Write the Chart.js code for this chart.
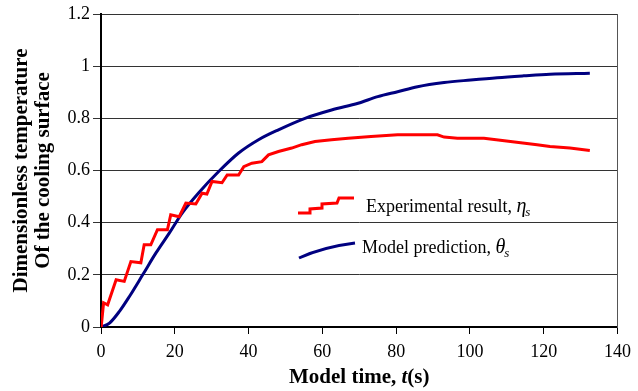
<!DOCTYPE html>
<html lang="en">
<head>
    <meta charset="UTF-8">
    <title>Dimensionless temperature of the cooling surface</title>
    <script src="https://cdn.jsdelivr.net/npm/chart.js"></script>
    <style>
        html, body {
            margin: 0;
            padding: 0;
            background: #ffffff;
        }
        #wrap {
            width: 638px;
            height: 391px;
        }
    </style>
</head>
<body>
    <div id="wrap">
        <canvas id="tempChart" width="638" height="391"></canvas>
    </div>

    <script>
        // tick values
        const xTicks = [0, 20, 40, 60, 80, 100, 120, 140];
        const yTicks = [0, 0.2, 0.4, 0.6, 0.8, 1, 1.2];

        const expTime = [0.05, 0.7, 1.8, 4.1, 6.3, 8.1, 10.8, 11.7, 13.5, 15.3, 18.0, 18.9, 21.2, 23.0, 25.7,
            27.4, 28.7, 30.1, 32.8, 34.2, 37.3, 38.7, 40.9, 43.6, 45.4, 48.1, 51.7, 54.4, 58.0, 62.5,
            67.0, 73.2, 80.4, 91.2, 93.0, 96.6, 103.8, 111.0, 118.2, 121.7, 127.1, 132.5];
        const expValue = [0, 0.093, 0.085, 0.181, 0.175, 0.251, 0.246, 0.315, 0.315, 0.373, 0.373, 0.43, 0.423, 0.475, 0.472,
            0.513, 0.51, 0.558, 0.553, 0.583, 0.583, 0.615, 0.628, 0.634, 0.66, 0.673, 0.686, 0.699, 0.711, 0.718,
            0.724, 0.73, 0.737, 0.737, 0.728, 0.724, 0.724, 0.711, 0.699, 0.692, 0.686, 0.677];

        // model prediction (theta_s)
        const modelTime = [0.05, 2.3, 5.0, 7.7, 11.3, 14.9, 18.5, 22.0, 26.5, 31.9, 37.3, 42.7, 48.1, 55.3,
            62.5, 69.7, 75.0, 80.4, 85.8, 93.0, 100.2, 107.4, 114.6, 121.7, 132.5];
        const modelValue = [0, 0.015, 0.06, 0.117, 0.2, 0.284, 0.36, 0.437, 0.515, 0.596, 0.667, 0.718, 0.756, 0.8,
            0.832, 0.858, 0.883, 0.902, 0.921, 0.937, 0.947, 0.956, 0.963, 0.969, 0.973];

        const serif = "'Liberation Serif', 'DejaVu Serif', serif";

        function toPoints(xs, ys) {
            return xs.map((x, i) => ({ x: x, y: ys[i] }));
        }

        function drawLabel(ctx, x, y, text, sym, sub) {
            ctx.font = '18px ' + serif;
            ctx.fillText(text, x, y);
            x += ctx.measureText(text).width;
            ctx.font = 'italic 20px ' + serif;
            ctx.fillText(sym, x, y);
            x += ctx.measureText(sym).width;
            ctx.font = 'italic 13px ' + serif;
            ctx.fillText(sub, x - 1, y + 4);
        }

        // legend inside the plot plus the x title with its italic t
        const extraText = {
            id: 'extraText',
            afterDatasetsDraw(chart) {
                const ctx = chart.ctx;
                const a = chart.chartArea;
                const ox = a.left;
                const oy = a.top;
                ctx.save();
                ctx.lineWidth = 3;

                // red stepped sample
                ctx.strokeStyle = '#ff0000';
                ctx.beginPath();
                ctx.moveTo(ox + 197, oy + 199);
                ctx.lineTo(ox + 209, oy + 199);
                ctx.lineTo(ox + 209, oy + 195);
                ctx.lineTo(ox + 221, oy + 194);
                ctx.lineTo(ox + 221, oy + 190);
                ctx.lineTo(ox + 236, oy + 189);
                ctx.lineTo(ox + 238, oy + 184);
                ctx.lineTo(ox + 253, oy + 184);
                ctx.stroke();

                // blue curve sample
                ctx.strokeStyle = '#000080';
                ctx.beginPath();
                ctx.moveTo(ox + 198, oy + 244);
                ctx.quadraticCurveTo(ox + 222, oy + 233, ox + 254, oy + 229);
                ctx.stroke();

                ctx.fillStyle = '#000';
                ctx.textBaseline = 'alphabetic';
                drawLabel(ctx, ox + 265, oy + 198, 'Experimental result, ', '\u03B7', 's');
                drawLabel(ctx, ox + 261, oy + 239, 'Model prediction, ', '\u03B8', 's');

                // x axis title: "Model time, t(s)" with t in italic
                const parts = [
                    ['bold 21px ' + serif, 'Model time, '],
                    ['bold italic 21px ' + serif, 't'],
                    ['bold 21px ' + serif, '(s)']
                ];
                let total = 0;
                parts.forEach(p => { ctx.font = p[0]; total += ctx.measureText(p[1]).width; });
                let x = (a.left + a.right) / 2 - total / 2;
                const y = chart.height - 8;
                parts.forEach(p => {
                    ctx.font = p[0];
                    ctx.fillText(p[1], x, y);
                    x += ctx.measureText(p[1]).width;
                });
                ctx.restore();
            }
        };

        const chartCanvas = document.getElementById('tempChart').getContext('2d');
        const tempChart = new Chart(chartCanvas, {
            type: 'line',
            data: {
                datasets: [{
                    label: 'Experimental result',
                    data: toPoints(expTime, expValue),
                    borderColor: '#ff0000',
                    borderWidth: 3,
                    pointRadius: 0,
                    tension: 0,
                    fill: false
                }, {
                    label: 'Model prediction',
                    data: toPoints(modelTime, modelValue),
                    borderColor: '#000080',
                    borderWidth: 3,
                    pointRadius: 0,
                    cubicInterpolationMode: 'monotone',
                    fill: false
                }]
            },
            options: {
                responsive: false,
                animation: false,
                layout: {
                    padding: { top: 14, left: 0, right: 0, bottom: 0 }
                },
                plugins: {
                    legend: { display: false },
                    tooltip: { enabled: false }
                },
                scales: {
                    x: {
                        type: 'linear',
                        min: 0,
                        max: 140,
                        afterBuildTicks: (s) => { s.ticks = xTicks.map(v => ({ value: v })); },
                        afterFit: (s) => { s.height = 64; },
                        grid: {
                            drawOnChartArea: false,
                            drawTicks: true,
                            tickLength: 7,
                            color: '#000'
                        },
                        border: { color: '#000', width: 2 },
                        ticks: {
                            color: '#000',
                            padding: 7,
                            maxRotation: 0,
                            font: { family: serif, size: 18 }
                        },
                        title: { display: false }
                    },
                    y: {
                        min: 0,
                        max: 1.2,
                        afterBuildTicks: (s) => { s.ticks = yTicks.map(v => ({ value: v })); },
                        afterFit: (s) => { s.width = 101; },
                        grid: {
                            color: '#333',
                            lineWidth: 1,
                            drawTicks: true,
                            tickLength: 8
                        },
                        border: { color: '#000', width: 2 },
                        ticks: {
                            color: '#000',
                            padding: 3,
                            font: { family: serif, size: 18 },
                            callback: (v) => String(Number(v.toFixed(1)))
                        },
                        title: {
                            display: true,
                            text: ['Dimensionless temperature', 'Of the cooling surface'],
                            color: '#000',
                            padding: { top: 11, bottom: 0 },
                            font: { family: serif, size: 21, weight: 'bold', lineHeight: 1.05 }
                        }
                    },
                    y2: {
                        position: 'right',
                        min: 0,
                        max: 1.2,
                        afterFit: (s) => { s.width = 17; },
                        grid: { display: false },
                        ticks: { display: false },
                        border: { display: true, color: '#555', width: 1 }
                    }
                }
            },
            plugins: [extraText]
        });
    </script>
</body>
</html>
